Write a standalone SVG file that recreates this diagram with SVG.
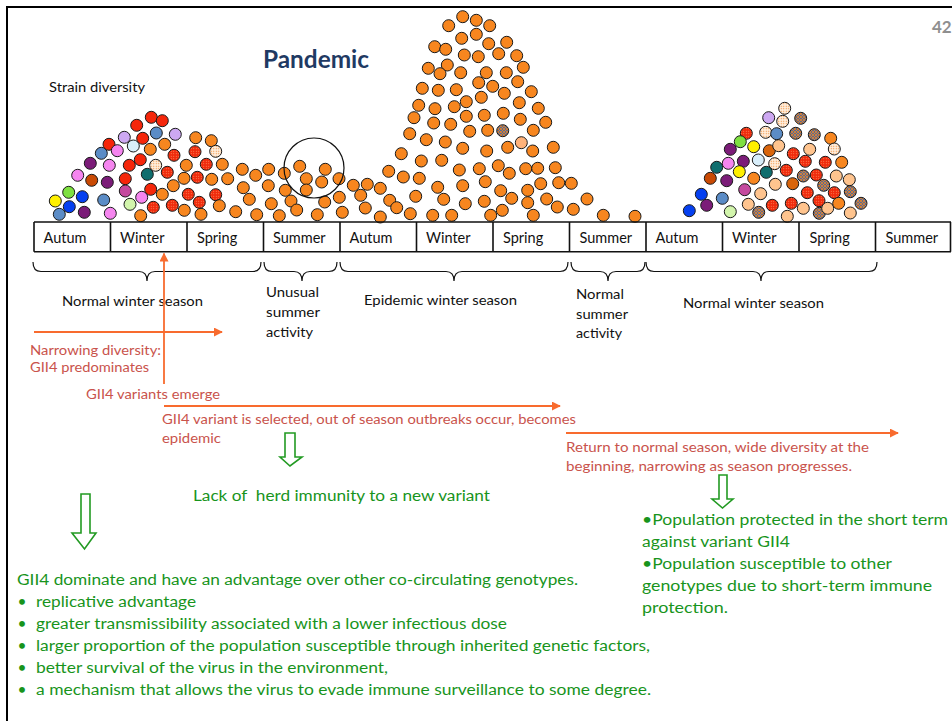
<svg xmlns="http://www.w3.org/2000/svg" width="952" height="721" viewBox="0 0 952 721">
<defs>
<style>
text{font-family:Lato,"Open Sans","Liberation Sans",sans-serif}
.lb{font-size:13.5px;fill:#111}
.sl{font-size:14.5px;fill:#111}
.or{font-size:13.5px;fill:#C9534C}
.gt{font-size:15.5px;fill:#18941C}
circle{stroke:#1a1a1a;stroke-width:1;r:6}
.o{fill:#F7861F}.r{fill:#F5260A}.rs{fill:url(#prs)}.ls{fill:url(#pls)}.pe{fill:#FFC48E}.hx{fill:url(#phx)}
.sb{fill:#5B8CC6}.lv{fill:#CDA8F2}.lc{fill:#D8EEFA}.tl{fill:#0F6E6E}.pu{fill:#7B1C78}.pk{fill:#F585EF}
.mg{fill:#C54A9E}.lg{fill:#D2F5AC}.gr{fill:#7EE040}.ye{fill:#FFF000}.bl{fill:#0540F0}.br{fill:#C94A04}
.do{fill:#D9650C}.lo{fill:#FFB27A}
.brace{fill:none;stroke:#111;stroke-width:1.2}
.oa{stroke:#F86B2E;stroke-width:1.8;fill:none}
.ga{fill:#fff;stroke:#229A22;stroke-width:1.6}
</style>
<pattern id="prs" patternUnits="userSpaceOnUse" width="2.5" height="2.5"><rect width="2.5" height="2.5" fill="#F02A0C"/><rect x="0.8" y="0.8" width="0.9" height="0.9" fill="#FF9A66"/></pattern>
<pattern id="pls" patternUnits="userSpaceOnUse" width="2.5" height="2.5"><rect width="2.5" height="2.5" fill="#FFF1E2"/><rect x="0.7" y="0.7" width="1.1" height="1.1" fill="#F0862A"/></pattern>
<pattern id="phx" patternUnits="userSpaceOnUse" width="3" height="3"><rect width="3" height="3" fill="#5E6C8C"/><path d="M0,3 L3,0 M0,0 L3,3" stroke="#E8832A" stroke-width="0.8"/></pattern>
<marker id="ah" viewBox="0 0 10 10" refX="9" refY="5" markerWidth="9" markerHeight="9" markerUnits="userSpaceOnUse" orient="auto"><path d="M0,0 L10,5 L0,10 z" fill="#F86B2E"/></marker>
</defs>
<rect width="952" height="721" fill="#fff"/>
<g id="frame" stroke="#000" stroke-width="2" fill="none"><path d="M7,721 L7,7 L952,7"/></g>
<text x="932" y="33" style="font-size:17px;font-weight:bold;fill:#8F8F8F">42</text>
<g id="title"><text x="263" y="68" style="font-size:24px;font-weight:bold;fill:#1F3A63" textLength="106" lengthAdjust="spacingAndGlyphs">Pandemic</text></g>
<g id="strain-label"><text class="lb" x="49" y="92" textLength="96" lengthAdjust="spacingAndGlyphs">Strain diversity</text></g>

<g id="hill-1">
<circle class="ye" cx="55.3" cy="201"/><circle class="sb" cx="59.3" cy="214.3"/><circle class="gr" cx="68.7" cy="192.3"/><circle class="bl" cx="69.3" cy="206.7"/><circle class="pk" cx="77.7" cy="175.3"/><circle class="bl" cx="82.3" cy="196.7"/><circle class="pu" cx="84.3" cy="212.3"/><circle class="pu" cx="90.3" cy="163.3"/><circle class="br" cx="91.7" cy="180.3"/><circle class="sb" cx="101.3" cy="153.3"/><circle class="sb" cx="103.7" cy="200"/><circle class="pu" cx="107.3" cy="182.3"/><circle class="r" cx="109" cy="144.3"/><circle class="pk" cx="109.3" cy="165.3"/><circle class="pk" cx="110.3" cy="213.3"/><circle class="pk" cx="117.3" cy="150.7"/><circle class="lv" cx="124.3" cy="137.3"/><circle class="r" cx="125.3" cy="178.7"/><circle class="mg" cx="125.3" cy="191"/><circle class="r" cx="129.3" cy="165.3"/><circle class="lg" cx="130" cy="204.3"/><circle class="lc" cx="133.3" cy="146"/><circle class="r" cx="136.7" cy="125.3"/><circle class="r" cx="140.3" cy="159.7"/><circle class="o" cx="140.7" cy="215.7"/><circle class="pk" cx="141.7" cy="197.3"/><circle class="r" cx="142.7" cy="138.3"/><circle class="tl" cx="147.3" cy="174.3"/><circle class="r" cx="150.7" cy="189.3"/><circle class="r" cx="151.3" cy="117.3"/><circle class="rs" cx="153.3" cy="207.3"/><circle class="o" cx="150.3" cy="149.3"/><circle class="ls" cx="155.7" cy="165.3"/><circle class="sb" cx="156.3" cy="133"/><circle class="r" cx="162.3" cy="120.7"/><circle class="o" cx="162.3" cy="194.3"/><circle class="o" cx="164.7" cy="144.3"/><circle class="rs" cx="167.3" cy="172.3"/><circle class="rs" cx="172.3" cy="205.3"/><circle class="o" cx="173.3" cy="185.7"/><circle class="rs" cx="174" cy="155.3"/><circle class="lv" cx="175.3" cy="134.3"/><circle class="o" cx="184" cy="178.3"/><circle class="o" cx="184.3" cy="210.3"/><circle class="o" cx="186.3" cy="165.3"/><circle class="rs" cx="188.3" cy="194.3"/><circle class="rs" cx="195" cy="151.7"/><circle class="o" cx="195.7" cy="137.7"/><circle class="rs" cx="197.3" cy="177.3"/><circle class="rs" cx="199.3" cy="202.3"/><circle class="o" cx="201" cy="214.3"/><circle class="rs" cx="206.3" cy="164.3"/><circle class="o" cx="211.3" cy="140.7"/><circle class="o" cx="211.7" cy="179.3"/><circle class="rs" cx="215.7" cy="194.7"/><circle class="ls" cx="215.7" cy="151.3"/><circle class="o" cx="219.3" cy="205.7"/><circle class="o" cx="222.3" cy="164.3"/><circle class="o" cx="227.7" cy="178.7"/>
</g>
<g id="summer-1">
<circle class="o" cx="235.7" cy="211.7"/><circle class="o" cx="242.3" cy="169.3"/><circle class="o" cx="243.3" cy="187.7"/><circle class="o" cx="249.3" cy="199.3"/><circle class="o" cx="255.7" cy="175.3"/><circle class="o" cx="256.7" cy="214.7"/><circle class="o" cx="268.7" cy="169.3"/><circle class="o" cx="268.3" cy="185.7"/><circle class="o" cx="271.3" cy="203.7"/><circle class="o" cx="279.3" cy="215.7"/><circle class="o" cx="284.3" cy="173.3"/><circle class="o" cx="285.3" cy="190.3"/><circle class="o" cx="291" cy="201"/><circle class="o" cx="296.7" cy="210"/><circle class="o" cx="299.7" cy="166.3"/><circle class="o" cx="306.3" cy="178.7"/><circle class="o" cx="306.3" cy="190"/><circle class="o" cx="317.3" cy="214.7"/><circle class="o" cx="321.7" cy="182"/><circle class="o" cx="324.7" cy="202"/><circle class="o" cx="325.3" cy="169.3"/><circle class="o" cx="339" cy="178.7"/><circle class="o" cx="339.3" cy="197.3"/><circle class="o" cx="342.3" cy="212.3"/>
<circle cx="314" cy="168" style="r:30;fill:none;stroke:#111;stroke-width:1.2"/>
</g>
<g id="hill-2">
<circle class="o" cx="462.7" cy="16.7"/><circle class="o" cx="448.7" cy="25.7"/><circle class="o" cx="476.3" cy="20.3"/><circle class="o" cx="489.7" cy="25.7"/><circle class="o" cx="461.7" cy="38.3"/><circle class="o" cx="476.3" cy="34.3"/><circle class="o" cx="488.7" cy="43.7"/><circle class="o" cx="506.7" cy="42.3"/><circle class="o" cx="434.7" cy="46.7"/><circle class="o" cx="445.7" cy="49.3"/><circle class="o" cx="464.3" cy="55"/><circle class="o" cx="478.3" cy="56.7"/><circle class="o" cx="498.7" cy="53.7"/><circle class="o" cx="516.7" cy="55.7"/><circle class="o" cx="447.3" cy="65"/><circle class="o" cx="428.3" cy="68.3"/><circle class="o" cx="440" cy="73.7"/><circle class="o" cx="460.7" cy="72.7"/><circle class="o" cx="486.3" cy="72.7"/><circle class="o" cx="506.3" cy="72.7"/><circle class="o" cx="523.3" cy="67.3"/><circle class="o" cx="478.7" cy="82.7"/><circle class="o" cx="492.7" cy="86.3"/><circle class="o" cx="517.7" cy="81.7"/><circle class="o" cx="422.3" cy="88.3"/><circle class="o" cx="438.3" cy="90.3"/><circle class="o" cx="456.3" cy="89.7"/><circle class="o" cx="504.3" cy="93.3"/><circle class="o" cx="531.3" cy="91.7"/><circle class="o" cx="481.3" cy="97.3"/><circle class="o" cx="466.3" cy="101.7"/><circle class="o" cx="418.7" cy="105.3"/><circle class="o" cx="435" cy="108.7"/><circle class="o" cx="454.3" cy="106.7"/><circle class="o" cx="519.3" cy="102.7"/><circle class="o" cx="538.3" cy="108.3"/><circle class="o" cx="414" cy="117.7"/><circle class="o" cx="466.3" cy="116.3"/><circle class="o" cx="484.3" cy="115.3"/><circle class="o" cx="503.3" cy="113.3"/><circle class="o" cx="520.3" cy="119.3"/><circle class="o" cx="545.7" cy="122.3"/><circle class="o" cx="433.7" cy="123"/><circle class="o" cx="450.7" cy="124.3"/><circle class="o" cx="469.7" cy="131.3"/><circle class="o" cx="487.7" cy="130.3"/><circle class="hx" cx="502.7" cy="130.7"/><circle class="o" cx="533.3" cy="130.3"/><circle class="o" cx="409.7" cy="133.7"/><circle class="o" cx="426.3" cy="139.7"/><circle class="o" cx="445.3" cy="142"/><circle class="lo" cx="521.3" cy="142.7"/><circle class="o" cx="462.7" cy="148.3"/><circle class="o" cx="486.7" cy="151"/><circle class="o" cx="507.7" cy="147.3"/><circle class="o" cx="532.7" cy="151"/><circle class="o" cx="553.3" cy="147.3"/><circle class="o" cx="401.3" cy="153.7"/><circle class="o" cx="421.3" cy="161"/><circle class="o" cx="441.7" cy="160.3"/><circle class="o" cx="498.3" cy="165.7"/><circle class="o" cx="479.3" cy="168.7"/><circle class="o" cx="459.3" cy="170"/><circle class="o" cx="509.3" cy="173.3"/><circle class="o" cx="525.7" cy="168.7"/><circle class="o" cx="537.7" cy="168.3"/><circle class="o" cx="555.3" cy="167.7"/><circle class="o" cx="388.7" cy="171.3"/><circle class="o" cx="403.3" cy="177"/><circle class="o" cx="419.3" cy="178.3"/><circle class="o" cx="485.3" cy="181.7"/><circle class="o" cx="540.7" cy="183.7"/><circle class="o" cx="558.7" cy="182.7"/><circle class="o" cx="571.3" cy="183.3"/><circle class="o" cx="353.3" cy="185.3"/><circle class="o" cx="367.3" cy="184.3"/><circle class="o" cx="380.3" cy="188.3"/><circle class="o" cx="437.7" cy="187.3"/><circle class="o" cx="462.7" cy="185.7"/><circle class="o" cx="500.7" cy="190.7"/><circle class="o" cx="527.7" cy="190.3"/><circle class="o" cx="360.7" cy="195.3"/><circle class="o" cx="389.7" cy="200.3"/><circle class="o" cx="396.7" cy="207.7"/><circle class="o" cx="415.7" cy="196.3"/><circle class="o" cx="443.7" cy="199.3"/><circle class="o" cx="484.3" cy="201.3"/><circle class="o" cx="511.7" cy="198.3"/><circle class="o" cx="527.7" cy="202.7"/><circle class="o" cx="546.7" cy="199"/><circle class="o" cx="587" cy="199"/><circle class="o" cx="365.3" cy="208"/><circle class="o" cx="380.3" cy="217"/><circle class="o" cx="410.3" cy="213.7"/><circle class="o" cx="432.7" cy="215.3"/><circle class="o" cx="451.7" cy="215.3"/><circle class="o" cx="465.3" cy="203.7"/><circle class="o" cx="490.7" cy="215.3"/><circle class="o" cx="502.3" cy="210.3"/><circle class="o" cx="533.3" cy="215.3"/><circle class="o" cx="557.3" cy="207"/><circle class="o" cx="573.3" cy="209.3"/><circle class="o" cx="603.3" cy="215.3"/><circle class="o" cx="635" cy="216.3"/>
</g>
<g id="hill-3">
<circle class="ls" cx="784.7" cy="108.3"/><circle class="lv" cx="768.7" cy="117.7"/><circle class="ls" cx="782.7" cy="121.3"/><circle class="hx" cx="800.7" cy="118.3"/><circle class="rs" cx="746.3" cy="133.3"/><circle class="ls" cx="765.7" cy="132.3"/><circle class="sb" cx="776.7" cy="133.7"/><circle class="hx" cx="795.7" cy="133.3"/><circle class="hx" cx="814.3" cy="134.7"/><circle class="o" cx="830.7" cy="138.3"/><circle class="pu" cx="730.3" cy="149.3"/><circle class="gr" cx="740.3" cy="141.7"/><circle class="ye" cx="753.7" cy="146.7"/><circle class="do" cx="769.3" cy="150.7"/><circle class="pe" cx="778.7" cy="145.7"/><circle class="rs" cx="793.3" cy="153.7"/><circle class="pe" cx="809.7" cy="149.3"/><circle class="ls" cx="834.3" cy="149"/><circle class="tl" cx="716.7" cy="167.3"/><circle class="pk" cx="728.3" cy="163.3"/><circle class="pu" cx="743.3" cy="161.3"/><circle class="lc" cx="758.3" cy="160"/><circle class="ls" cx="774.7" cy="163.7"/><circle class="rs" cx="805.3" cy="161.3"/><circle class="rs" cx="825.3" cy="162.3"/><circle class="o" cx="841.7" cy="162.3"/><circle class="br" cx="710.3" cy="178.3"/><circle class="pu" cx="726.7" cy="180.7"/><circle class="ye" cx="739.3" cy="171.7"/><circle class="o" cx="753.7" cy="178.3"/><circle class="tl" cx="766.3" cy="172.3"/><circle class="rs" cx="786.3" cy="170.3"/><circle class="hx" cx="803.3" cy="176"/><circle class="rs" cx="816.3" cy="175"/><circle class="pe" cx="836.3" cy="176"/><circle class="pe" cx="849.3" cy="179.7"/><circle class="bl" cx="701.3" cy="194.3"/><circle class="sb" cx="722.3" cy="198.3"/><circle class="mg" cx="744.7" cy="189.7"/><circle class="pe" cx="760.7" cy="193.7"/><circle class="pe" cx="775.3" cy="184.3"/><circle class="do" cx="792.7" cy="183.7"/><circle class="hx" cx="823.7" cy="185.3"/><circle class="rs" cx="807.3" cy="192.7"/><circle class="rs" cx="834.3" cy="192.7"/><circle class="hx" cx="850.3" cy="191.7"/><circle class="bl" cx="689.3" cy="210.7"/><circle class="pu" cx="706.7" cy="205.3"/><circle class="lg" cx="730.3" cy="211.7"/><circle class="pe" cx="748.3" cy="204.3"/><circle class="hx" cx="758.7" cy="212.3"/><circle class="rs" cx="772.3" cy="205.3"/><circle class="rs" cx="791.3" cy="203.3"/><circle class="pe" cx="803.3" cy="208.3"/><circle class="rs" cx="819" cy="200.7"/><circle class="hx" cx="819.3" cy="213.3"/><circle class="pe" cx="827.7" cy="208.3"/><circle class="o" cx="838.7" cy="203.3"/><circle class="pe" cx="787.3" cy="216.3"/><circle class="pe" cx="850.3" cy="213"/><circle class="hx" cx="861" cy="203.3"/>
</g>

<g id="seasons">
<path d="M34,222 H951 M34,251.7 H951 M34,222 V251.7 M110.5,222 V251.7 M187,222 V251.7 M263.5,222 V251.7 M340,222 V251.7 M416.5,222 V251.7 M493,222 V251.7 M569.5,222 V251.7 M646,222 V251.7 M722.5,222 V251.7 M799,222 V251.7 M875.5,222 V251.7 M950.5,222 V251.7" stroke="#111" stroke-width="1.6" fill="none"/>
<text class="sl" x="43.5" y="243.3">Autum</text>
<text class="sl" x="120" y="243.3">Winter</text>
<text class="sl" x="197" y="243.3">Spring</text>
<text class="sl" x="273" y="243.3">Summer</text>
<text class="sl" x="349.5" y="243.3">Autum</text>
<text class="sl" x="426" y="243.3">Winter</text>
<text class="sl" x="503" y="243.3">Spring</text>
<text class="sl" x="579.5" y="243.3">Summer</text>
<text class="sl" x="655.5" y="243.3">Autum</text>
<text class="sl" x="732" y="243.3">Winter</text>
<text class="sl" x="809.5" y="243.3">Spring</text>
<text class="sl" x="885.5" y="243.3">Summer</text>
</g>

<g id="braces">
<path class="brace" d="M33,262 Q33,271.5 41,271.5 L139,271.5 Q147,271.5 147,281 Q147,271.5 155,271.5 L253,271.5 Q261,271.5 261,262"/>
<path class="brace" d="M264,262 Q264,271.5 272,271.5 L294,271.5 Q302,271.5 302,281 Q302,271.5 310,271.5 L329,271.5 Q337,271.5 337,262"/>
<path class="brace" d="M340,262 Q340,271.5 348,271.5 L446,271.5 Q454,271.5 454,281 Q454,271.5 462,271.5 L560,271.5 Q568,271.5 568,262"/>
<path class="brace" d="M571,262 Q571,271.5 579,271.5 L600,271.5 Q608,271.5 608,281 Q608,271.5 616,271.5 L637,271.5 Q645,271.5 645,262"/>
<path class="brace" d="M646,262 Q646,271.5 654,271.5 L753,271.5 Q761,271.5 761,281 Q761,271.5 769,271.5 L869,271.5 Q877,271.5 877,262"/>
</g>
<g id="brace-labels">
<text class="lb" x="62" y="305.7" textLength="141" lengthAdjust="spacingAndGlyphs">Normal winter season</text>
<text class="lb" x="266" y="297" textLength="53" lengthAdjust="spacingAndGlyphs">Unusual</text>
<text class="lb" x="266" y="317" textLength="54" lengthAdjust="spacingAndGlyphs">summer</text>
<text class="lb" x="266" y="337" textLength="47" lengthAdjust="spacingAndGlyphs">activity</text>
<text class="lb" x="364" y="305" textLength="153" lengthAdjust="spacingAndGlyphs">Epidemic winter season</text>
<text class="lb" x="576" y="299" textLength="48" lengthAdjust="spacingAndGlyphs">Normal</text>
<text class="lb" x="576" y="319" textLength="52" lengthAdjust="spacingAndGlyphs">summer</text>
<text class="lb" x="576" y="338" textLength="46" lengthAdjust="spacingAndGlyphs">activity</text>
<text class="lb" x="683" y="308" textLength="141" lengthAdjust="spacingAndGlyphs">Normal winter season</text>
</g>

<g id="connectors">
<path class="oa" d="M164,384 V253.5" marker-end="url(#ah)"/>
<path class="oa" d="M34,332 H222" marker-end="url(#ah)"/>
<path class="oa" d="M164,406 H560" marker-end="url(#ah)"/>
<path class="oa" d="M566,433 H898" marker-end="url(#ah)"/>
<path class="ga" d="M285,433 H295 V457 H302 L290,466 L280,457 H285 Z"/>
<path class="ga" d="M81,494 H90 V533 H96 L84.5,549 L72,533 H81 Z"/>
<path class="ga" d="M719,475 H727 V499 H733 L722.5,508 L712,499 H719 Z"/>
</g>

<g id="orange-notes">
<text class="or" x="30" y="354.7" textLength="131" lengthAdjust="spacingAndGlyphs">Narrowing diversity:</text>
<text class="or" x="30" y="371.7" textLength="119" lengthAdjust="spacingAndGlyphs">GII4 predominates</text>
<text class="or" x="86" y="399.3" textLength="134" lengthAdjust="spacingAndGlyphs">GII4 variants emerge</text>
<text class="or" x="162" y="424.3" textLength="414" lengthAdjust="spacingAndGlyphs">GII4 variant is selected, out of season outbreaks occur, becomes</text>
<text class="or" x="162" y="442.5" textLength="59" lengthAdjust="spacingAndGlyphs">epidemic</text>
<text class="or" x="566" y="451.7" textLength="303" lengthAdjust="spacingAndGlyphs">Return to normal season, wide diversity at the</text>
<text class="or" x="566" y="471" textLength="286" lengthAdjust="spacingAndGlyphs">beginning, narrowing as season progresses.</text>
</g>

<g id="green-notes">
<text class="gt" x="193" y="500.7" textLength="297" lengthAdjust="spacingAndGlyphs" xml:space="preserve">Lack of  herd immunity to a new variant</text>
<text class="gt" x="17" y="584.7" textLength="561" lengthAdjust="spacingAndGlyphs">GII4 dominate and have an advantage over other co-circulating genotypes.</text>
<text class="gt" x="17.5" y="607">•</text>
<text class="gt" x="36" y="607" textLength="160" lengthAdjust="spacingAndGlyphs">replicative advantage</text>
<text class="gt" x="17.5" y="629">•</text>
<text class="gt" x="36" y="629" textLength="471" lengthAdjust="spacingAndGlyphs">greater transmissibility associated with a lower infectious dose</text>
<text class="gt" x="17.5" y="651">•</text>
<text class="gt" x="36" y="651" textLength="614" lengthAdjust="spacingAndGlyphs">larger proportion of the population susceptible through inherited genetic factors,</text>
<text class="gt" x="17.5" y="673">•</text>
<text class="gt" x="36" y="673" textLength="352" lengthAdjust="spacingAndGlyphs">better survival of the virus in the environment,</text>
<text class="gt" x="17.5" y="695">•</text>
<text class="gt" x="36" y="695" textLength="615" lengthAdjust="spacingAndGlyphs">a mechanism that allows the virus to evade immune surveillance to some degree.</text>
<text class="gt" x="642" y="525" textLength="306" lengthAdjust="spacingAndGlyphs">•Population protected in the short term</text>
<text class="gt" x="642" y="547" textLength="148" lengthAdjust="spacingAndGlyphs">against variant GII4</text>
<text class="gt" x="642" y="569.3" textLength="250" lengthAdjust="spacingAndGlyphs">•Population susceptible to other</text>
<text class="gt" x="642" y="591" textLength="290" lengthAdjust="spacingAndGlyphs">genotypes due to short-term immune</text>
<text class="gt" x="642" y="613.3" textLength="86" lengthAdjust="spacingAndGlyphs">protection.</text>
</g>
</svg>
